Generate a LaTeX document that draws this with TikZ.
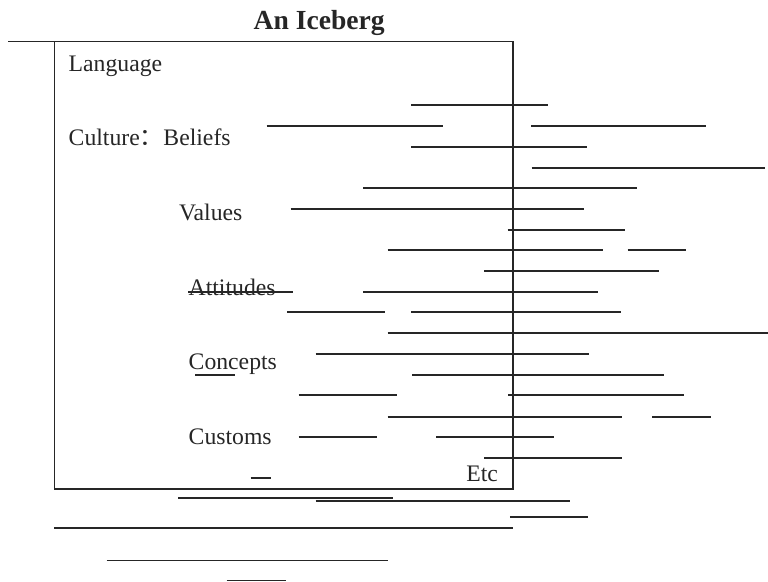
\documentclass[tikz,border=0pt]{standalone}
\usepackage{fontspec}
\setmainfont{Liberation Serif}
\newfontfamily\cjkfont{Noto Sans CJK SC}
\definecolor{ink}{HTML}{262626}
\tikzset{
  lbl/.style={anchor=base west, inner sep=0pt, text=ink, font=\fontsize{11.85}{14}\selectfont},
  ttl/.style={anchor=base west, inner sep=0pt, text=ink, font=\fontsize{13.8}{16}\selectfont\bfseries},
  rule/.style={draw=ink, line width=0.85pt}
}
\begin{document}
\begin{tikzpicture}[x=0.5pt,y=-0.5pt]
\useasboundingbox (0,0) rectangle (768,582);
% title
\node[ttl] (title) at (253.3,29.3) {An Iceberg};
% box and sea line
\draw[rule] (8.3,41.5) -- (54.5,41.5);
\draw[rule] (54.5,41.5) rectangle (513,489);
% labels
\node[lbl] (lang) at (68.3,71.7) {Language};
\node[lbl] (cult) at (68.3,146) {Culture{\cjkfont ：}Beliefs};
\node[lbl] (vals) at (178.8,220.7) {Values};
\node[lbl] (att) at (188.3,296) {Attitudes};
\node[lbl] (conc) at (188.3,370) {Concepts};
\node[lbl] (cust) at (188.3,444.3) {Customs};
\node[lbl] (etc) at (466,481.7) {Etc};
% marks on the labels
\draw[rule] (188.3,291.7) -- (293.3,291.7);
\draw[rule] (195,375) -- (235,375);
\draw[rule] (250.7,477.7) -- (270.7,477.7);
% horizontal lines
\foreach \y/\a/\b in {
  105/411/547.5,
  125.7/266.5/442.5, 125.7/531/706,
  146.7/411/586.5,
  167.7/531.5/765,
  188/363/636.5,
  208.7/290.5/584,
  229.7/507.5/625,
  250.3/387.5/602.5, 250.3/627.5/686,
  271.3/484/659,
  292/363.3/598.3,
  311.7/287.3/385.3, 311.7/411.3/621,
  333.3/387.7/768,
  354.3/315.7/589,
  375.3/412/664.3,
  395/298.7/396.7, 395/508/684.3,
  416.7/387.7/621.7, 416.7/652/710.7,
  436.7/298.7/377.3, 436.7/436/554,
  458.3/484/621.7,
  498.3/178.3/393.3,
  500.8/315.5/570.2,
  517/509.8/588.2,
  528/54/513.3,
  560.5/106.5/387.8,
  580.5/226.7/286}
  \draw[rule] (\a,\y) -- (\b,\y);
\end{tikzpicture}
\end{document}
